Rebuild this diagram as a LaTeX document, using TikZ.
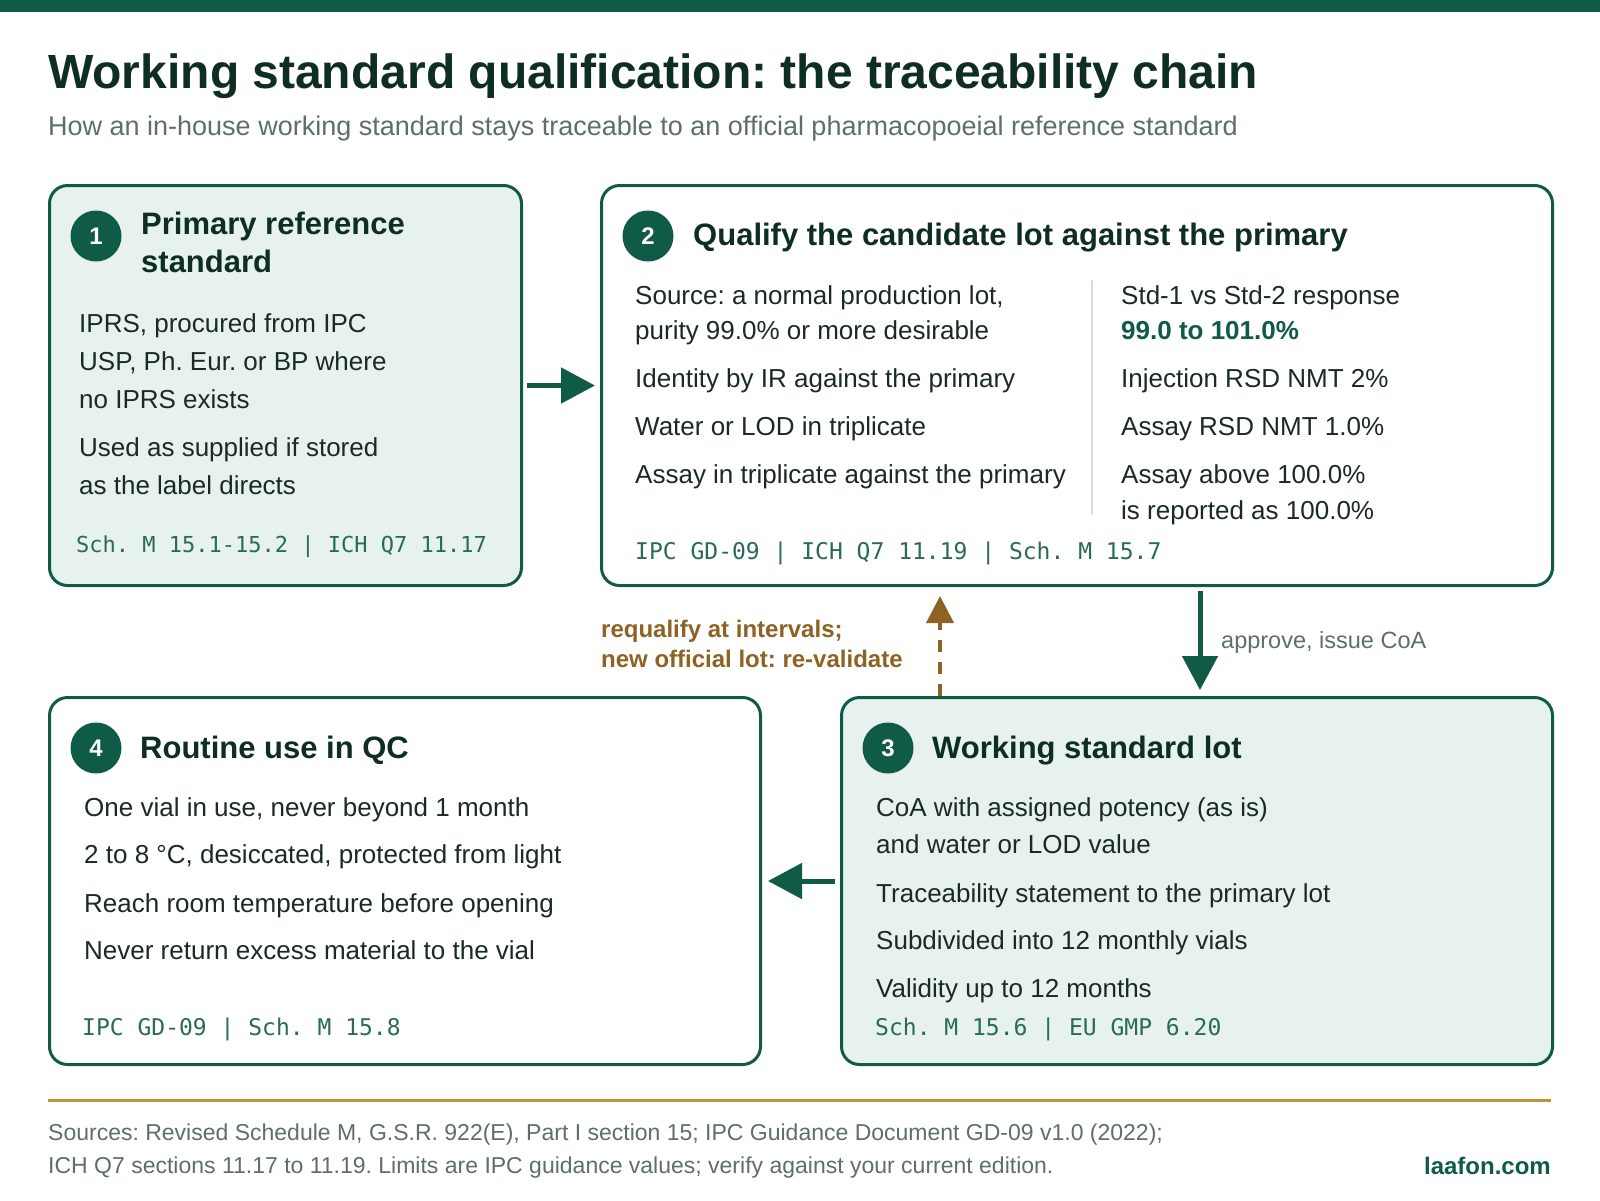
\documentclass[tikz,border=0pt]{standalone}
\usepackage{fontspec}
\setmainfont{Liberation Sans}
\setmonofont{DejaVu Sans Mono}
\usetikzlibrary{arrows.meta}
\frenchspacing

\definecolor{dkgreen}{HTML}{0F5B47}
\definecolor{boxfill}{HTML}{E7F1ED}
\definecolor{ink}{HTML}{0E2E25}
\definecolor{bodyink}{HTML}{1B2A26}
\definecolor{monoink}{HTML}{2A6B58}
\definecolor{greyink}{HTML}{5E6E69}
\definecolor{requal}{HTML}{8C6323}
\definecolor{goldline}{HTML}{C4913A}
\definecolor{divline}{HTML}{D3E2DC}

\tikzset{
 box/.style={draw=dkgreen,line width=3pt,rounded corners=18pt,anchor=north west,inner sep=0pt},
 num/.style={circle,fill=dkgreen,minimum size=51pt,inner sep=0pt,text=white,font=\fontsize{24}{24}\selectfont\bfseries},
 head/.style={anchor=base west,inner sep=0pt,text=ink,font=\fontsize{31}{36}\selectfont\bfseries},
 body/.style={anchor=base west,inner sep=0pt,text=bodyink,font=\fontsize{26}{30}\selectfont},
 mono/.style={anchor=base west,inner sep=0pt,text=monoink,font=\fontsize{23}{26}\selectfont\ttfamily},
 arr/.style={draw=dkgreen,line width=5pt,-{Triangle[length=34pt,width=35pt]}},
 back/.style={draw=requal,line width=4pt,dash pattern=on 12pt off 10pt,-{Triangle[length=27pt,width=27pt]}}
}

\begin{document}
\begin{tikzpicture}[x=1pt,y=-1pt]
\useasboundingbox (0,0) rectangle (1600,1200);
\fill[dkgreen] (0,0) rectangle (1600,12);
\node[anchor=base west,inner sep=0pt,text=ink,font=\fontsize{48}{56}\selectfont\bfseries] (title) at (48,88) {Working standard qualification: the traceability chain};
\node[anchor=base west,inner sep=0pt,text=greyink,font=\fontsize{27}{32}\selectfont] (subtitle) at (48,135) {How an in-house working standard stays traceable to an official pharmacopoeial reference standard};

% the four stages
\node[box,fill=boxfill,minimum width=472pt,minimum height=400pt] (b1) at (48,184) {};
\node[box,fill=white,minimum width=951pt,minimum height=400pt] (b2) at (600,184) {};
\node[box,fill=boxfill,minimum width=711pt,minimum height=367pt] (b3) at (840,696) {};
\node[box,fill=white,minimum width=711pt,minimum height=367pt] (b4) at (48,696) {};

\node[num] (c1) at (96,236) {1};
\node[num] (c2) at (648,236) {2};
\node[num] (c3) at (888,748) {3};
\node[num] (c4) at (96,748) {4};

\node[head] (h1a) at (141,234) {Primary reference};
\node[head] (h1b) at (141,272) {standard};
\node[head] (h2) at (693,245) {Qualify the candidate lot against the primary};
\node[head] (h3) at (932,758) {Working standard lot};
\node[head] (h4) at (140,758) {Routine use in QC};

\foreach \y/\t [count=\i] in {332/{IPRS, procured from IPC},370/{USP, Ph. Eur. or BP where},408/no IPRS exists,456/Used as supplied if stored,494/as the label directs}
 \node[body] (p1-\i) at (79,\y) {\t};
\node[mono,font=\fontsize{22}{26}\selectfont\ttfamily] (r1) at (76,552) {Sch. M 15.1-15.2 | ICH Q7 11.17};

\foreach \y/\t [count=\i] in {304/{Source: a normal production lot,},339/purity 99.0\% or more desirable,387/Identity by IR against the primary,435/Water or LOD in triplicate,483/Assay in triplicate against the primary}
 \node[body] (p2-\i) at (635,\y) {\t};
\foreach \y/\t [count=\i] in {304/Std-1 vs Std-2 response,387/Injection RSD NMT 2\%,435/Assay RSD NMT 1.0\%,483/Assay above 100.0\%,519/is reported as 100.0\%}
 \node[body] (q2-\i) at (1121,\y) {\t};
\node[body,text=dkgreen,font=\fontsize{26}{30}\selectfont\bfseries] (lim) at (1121,339) {99.0 to 101.0\%};
\draw[divline,line width=1.5pt] (1092,280) -- (1092,515);
\node[mono] (r2) at (635,559) {IPC GD-09 | ICH Q7 11.19 | Sch. M 15.7};

\foreach \y/\t [count=\i] in {816/CoA with assigned potency (as is),853/and water or LOD value,902/Traceability statement to the primary lot,949/Subdivided into 12 monthly vials,997/Validity up to 12 months}
 \node[body] (p3-\i) at (876,\y) {\t};
\node[mono] (r3) at (875,1035) {Sch. M 15.6 | EU GMP 6.20};

\foreach \y/\t [count=\i] in {816/{One vial in use, never beyond 1 month},863/{2 to 8 °C, desiccated, protected from light},912/Reach room temperature before opening,959/Never return excess material to the vial}
 \node[body] (p4-\i) at (84,\y) {\t};
\node[mono] (r4) at (82,1035) {IPC GD-09 | Sch. M 15.8};

% connectors
\coordinate (k23) at (1200,0);
\coordinate (k32) at (940,0);
\draw[arr,shorten <=4pt,shorten >=5pt] (b1.east) -- (b2.west |- b1.east);
\draw[arr,shorten <=4pt,shorten >=6pt] (b2.south -| k23) -- (b3.north -| k23);
\draw[arr,shorten <=5pt,shorten >=6pt] (b3.west) -- (b4.east |- b3.west);
\draw[back,shorten >=9pt] (b3.north -| k32) -- (b2.south -| k32);
\node[anchor=base west,inner sep=0pt,text=greyink,font=\fontsize{23.5}{28}\selectfont] (lbl23) at (1221,648) {approve, issue CoA};
\node[anchor=base west,inner sep=0pt,text=requal,font=\fontsize{24}{28}\selectfont\bfseries] (lbl32a) at (601,637) {requalify at intervals;};
\node[anchor=base west,inner sep=0pt,text=requal,font=\fontsize{24}{28}\selectfont\bfseries] (lbl32b) at (601,667) {new official lot: re-validate};

% footer
\draw[goldline,line width=3pt] (48,1100) -- (1551,1100);
\node[anchor=base west,inner sep=0pt,text=greyink,font=\fontsize{23}{27}\selectfont] (src1) at (48,1140) {Sources: Revised Schedule M, G.S.R. 922(E), Part I section 15; IPC Guidance Document GD-09 v1.0 (2022);};
\node[anchor=base west,inner sep=0pt,text=greyink,font=\fontsize{23}{27}\selectfont] (src2) at (48,1173) {ICH Q7 sections 11.17 to 11.19. Limits are IPC guidance values; verify against your current edition.};
\node[anchor=base east,inner sep=0pt,text=dkgreen,font=\fontsize{24}{28}\selectfont\bfseries] (site) at (1551,1174) {laafon.com};
\end{tikzpicture}
\end{document}
